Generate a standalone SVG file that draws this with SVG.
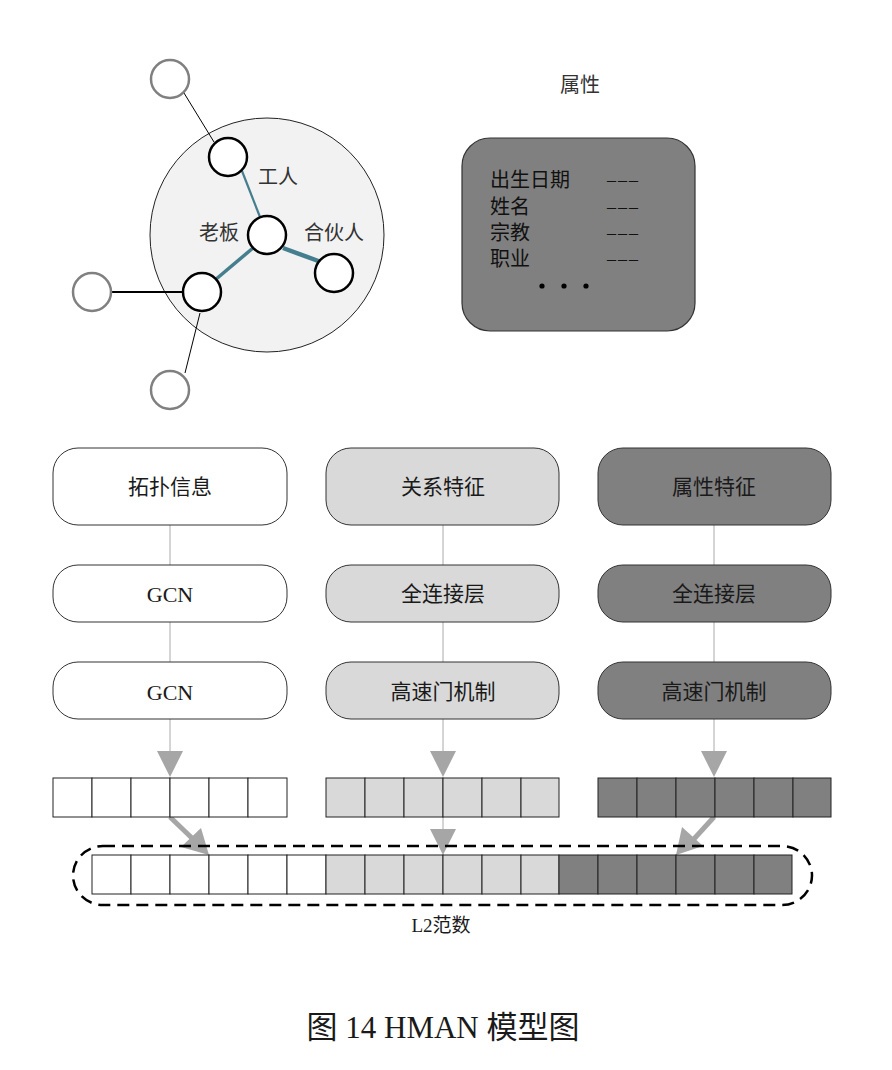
<svg xmlns="http://www.w3.org/2000/svg" width="892" height="1070" viewBox="0 0 892 1070">
<style>
text{font-family:"Liberation Serif","Noto Sans CJK SC",serif;fill:#1a1a1a;text-anchor:middle;dominant-baseline:central}
.lbl{font-size:20px;fill:#333}
.at{font-size:20px;fill:#111;text-anchor:start}
.dash{font-size:18px;fill:#111;text-anchor:start;letter-spacing:2px}
.box{stroke:#333;stroke-width:1}
.w{fill:#fff}.l{fill:#d9d9d9}.d{fill:#808080}
.node{fill:#fff;stroke:#000;stroke-width:2.5}
.gnode{fill:#fff;stroke:#808080;stroke-width:2.5}
.cell{stroke:#222;stroke-width:1}
.vline{stroke:#aaa;stroke-width:1;fill:none}
.ah{fill:#a6a6a6}
.teal{stroke:#457f8f;fill:none}
</style>
<g id="graph">
<circle cx="267" cy="235" r="117" fill="#f2f2f2" stroke="#222" stroke-width="1"/>
<line x1="184" y1="93" x2="214" y2="142" stroke="#000" stroke-width="1"/>
<line x1="111" y1="292" x2="183" y2="292" stroke="#000" stroke-width="1.8"/>
<line x1="200" y1="313" x2="185" y2="373" stroke="#000" stroke-width="1"/>
<line class="teal" x1="242" y1="171" x2="260" y2="217" stroke-width="2.2"/>
<line class="teal" x1="253" y1="248" x2="215" y2="280" stroke-width="3.5"/>
<line class="teal" x1="283" y1="248" x2="321" y2="262" stroke-width="4.5"/>
<circle class="gnode" cx="170" cy="79" r="19"/>
<circle class="gnode" cx="92" cy="292" r="19"/>
<circle class="gnode" cx="170" cy="390" r="19"/>
<circle class="node" cx="228" cy="157" r="19"/>
<circle class="node" cx="267" cy="235" r="19"/>
<circle class="node" cx="334" cy="273" r="19"/>
<circle class="node" cx="202" cy="292" r="19"/>
<text class="lbl" x="278" y="177">工人</text>
<text class="lbl" x="219" y="233">老板</text>
<text class="lbl" x="334" y="233">合伙人</text>
</g>
<g id="attr">
<text class="lbl" x="580" y="85">属性</text>
<rect x="462" y="138" width="233" height="193" rx="28" fill="#808080" stroke="#333" stroke-width="1.2"/>
<text class="at" x="490" y="180">出生日期</text>
<text class="at" x="490" y="207">姓名</text>
<text class="at" x="490" y="233">宗教</text>
<text class="at" x="490" y="259">职业</text>
<text class="dash" x="607" y="180">–––</text>
<text class="dash" x="607" y="207">–––</text>
<text class="dash" x="607" y="233">–––</text>
<text class="dash" x="607" y="259">–––</text>
<circle cx="542" cy="286" r="2.6" fill="#000"/>
<circle cx="564" cy="286" r="2.6" fill="#000"/>
<circle cx="586" cy="286" r="2.6" fill="#000"/>
</g>
<g id="connectors">
<line class="vline" x1="170" y1="525" x2="170" y2="758"/>
<line class="vline" x1="443" y1="525" x2="443" y2="758"/>
<line class="vline" x1="714" y1="525" x2="714" y2="758"/>
<polygon class="ah" points="157,751 183,751 170,777"/>
<polygon class="ah" points="430,751 456,751 443,777"/>
<polygon class="ah" points="701,751 727,751 714,777"/>
<line class="vline" x1="443" y1="817" x2="443" y2="835"/>
<polygon class="ah" points="430,829 456,829 443,855"/>
<line x1="170" y1="817" x2="194" y2="840" stroke="#a6a6a6" stroke-width="5"/>
<polygon class="ah" points="181,847 201,828 209,855"/>
<line x1="714" y1="817" x2="693" y2="840" stroke="#a6a6a6" stroke-width="5"/>
<polygon class="ah" points="682,827 703,846 676,855"/>
</g>
<g id="col1">
<rect class="box w" x="53" y="448" width="234" height="77" rx="25"/>
<text x="170" y="487" font-size="21">拓扑信息</text>
<rect class="box w" x="53" y="565" width="234" height="57" rx="25"/>
<text x="170" y="594" font-size="22">GCN</text>
<rect class="box w" x="53" y="662" width="234" height="57" rx="25"/>
<text x="170" y="692" font-size="22">GCN</text>
</g>
<g id="col2">
<rect class="box l" x="326" y="448" width="233" height="77" rx="25"/>
<text x="443" y="487" font-size="21">关系特征</text>
<rect class="box l" x="326" y="565" width="233" height="57" rx="25"/>
<text x="443" y="594" font-size="21">全连接层</text>
<rect class="box l" x="326" y="662" width="233" height="57" rx="25"/>
<text x="443" y="692" font-size="21">高速门机制</text>
</g>
<g id="col3">
<rect class="box d" x="598" y="448" width="233" height="77" rx="25"/>
<text x="714" y="487" font-size="21">属性特征</text>
<rect class="box d" x="598" y="565" width="233" height="57" rx="25"/>
<text x="714" y="594" font-size="21">全连接层</text>
<rect class="box d" x="598" y="662" width="233" height="57" rx="25"/>
<text x="714" y="692" font-size="21">高速门机制</text>
</g>
<g id="vec1">
<rect class="cell w" x="53" y="778" width="39" height="39"/><rect class="cell w" x="92" y="778" width="39" height="39"/><rect class="cell w" x="131" y="778" width="39" height="39"/><rect class="cell w" x="170" y="778" width="39" height="39"/><rect class="cell w" x="209" y="778" width="39" height="39"/><rect class="cell w" x="248" y="778" width="39" height="39"/>
</g>
<g id="vec2">
<rect class="cell l" x="326" y="778" width="39" height="39"/><rect class="cell l" x="365" y="778" width="39" height="39"/><rect class="cell l" x="404" y="778" width="39" height="39"/><rect class="cell l" x="443" y="778" width="39" height="39"/><rect class="cell l" x="482" y="778" width="39" height="39"/><rect class="cell l" x="521" y="778" width="38" height="39"/>
</g>
<g id="vec3">
<rect class="cell d" x="598" y="778" width="39" height="39"/><rect class="cell d" x="637" y="778" width="39" height="39"/><rect class="cell d" x="676" y="778" width="39" height="39"/><rect class="cell d" x="715" y="778" width="39" height="39"/><rect class="cell d" x="754" y="778" width="39" height="39"/><rect class="cell d" x="793" y="778" width="38" height="39"/>
</g>
<g id="concat">
<rect x="73" y="846" width="739" height="59" rx="30" fill="none" stroke="#000" stroke-width="2.5" stroke-dasharray="12 7"/>
<rect class="cell w" x="92" y="855" width="39" height="39"/><rect class="cell w" x="131" y="855" width="39" height="39"/><rect class="cell w" x="170" y="855" width="39" height="39"/><rect class="cell w" x="209" y="855" width="39" height="39"/><rect class="cell w" x="248" y="855" width="39" height="39"/><rect class="cell w" x="287" y="855" width="39" height="39"/>
<rect class="cell l" x="326" y="855" width="39" height="39"/><rect class="cell l" x="365" y="855" width="39" height="39"/><rect class="cell l" x="404" y="855" width="39" height="39"/><rect class="cell l" x="443" y="855" width="39" height="39"/><rect class="cell l" x="482" y="855" width="39" height="39"/><rect class="cell l" x="521" y="855" width="38" height="39"/>
<rect class="cell d" x="559" y="855" width="39" height="39"/><rect class="cell d" x="598" y="855" width="39" height="39"/><rect class="cell d" x="637" y="855" width="39" height="39"/><rect class="cell d" x="676" y="855" width="39" height="39"/><rect class="cell d" x="715" y="855" width="39" height="39"/><rect class="cell d" x="754" y="855" width="38" height="39"/>
<text x="441" y="925" font-size="19">L2范数</text>
</g>
<text x="443" y="1027" font-size="31" fill="#000">图 14 HMAN 模型图</text>
</svg>
